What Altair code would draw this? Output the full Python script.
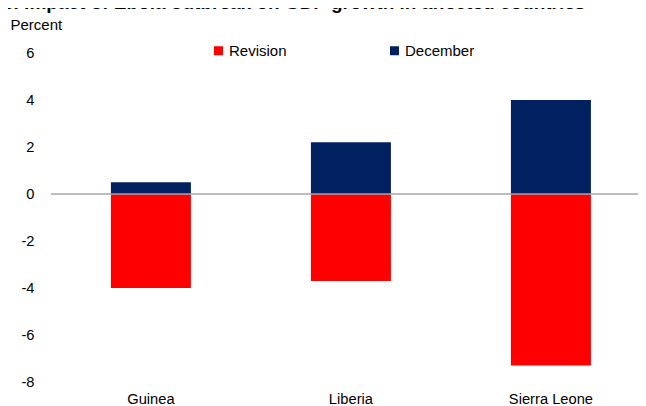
import altair as alt
import pandas as pd

countries = ["Guinea", "Liberia", "Sierra Leone"]
revision = [-4.0, -3.7, -7.3]
december = [0.5, 2.2, 4.0]
series = ["Revision", "December"]
colors = ["#ff0000", "#002060"]
y_ticks = [-8, -6, -4, -2, 0, 2, 4, 6]
title_text = "3. Impact of Ebola outbreak on GDP growth in affected countries"

rows = []
for c, r, d in zip(countries, revision, december):
    rows.append({"country": c, "series": "Revision", "value": r})
    rows.append({"country": c, "series": "December", "value": d})
df = pd.DataFrame(rows)

W, H = 587, 329
FONT = "Liberation Sans"

bars = alt.Chart(df).mark_bar().encode(
    x=alt.X(
        "country:N",
        sort=countries,
        scale=alt.Scale(paddingInner=0.6, paddingOuter=0.2675, align=0.56),
        axis=alt.Axis(
            title=None, labelAngle=0, domain=False, ticks=False, tickSize=0,
            labelPadding=9, labelFontSize=14.7, labelColor="#000", labelFont=FONT,
            labelBaseline="top",
        ),
    ),
    y=alt.Y(
        "value:Q",
        stack="zero",
        scale=alt.Scale(domain=[-8, 6], nice=False, zero=False),
        axis=alt.Axis(
            values=y_ticks, grid=False, domain=False, ticks=False, tickSize=0,
            labelExpr="'' + datum.value",
            labelPadding=17, labelFontSize=14.7, labelColor="#000", labelFont=FONT,
            title="Percent", titleAngle=0, titleX=-41, titleY=-24,
            titleAlign="left", titleBaseline="alphabetic", titleFontWeight="normal",
            titleFontSize=15, titleFont=FONT, titleColor="#000",
        ),
    ),
    color=alt.Color(
        "series:N",
        scale=alt.Scale(domain=series, range=colors),
        legend=alt.Legend(
            title=None, orient="none", legendX=160, legendY=-10,
            direction="horizontal", columns=2, symbolType="square",
            symbolSize=81, symbolStrokeWidth=0, symbolOpacity=1,
            labelFontSize=15, labelFont=FONT, labelColor="#000",
            labelOffset=3, columnPadding=100, padding=0,
        ),
    ),
)

zero_rule = alt.Chart(pd.DataFrame({"z": [0]})).mark_rule(
    color="#a6a6a6", strokeWidth=1.5
).encode(y=alt.datum(0), x=alt.value(0), x2=alt.value(W))

chart = alt.layer(bars, zero_rule).properties(
    width=W,
    height=H,
    background="white",
    autosize=alt.AutoSizeParams(type="none"),
    padding={"left": 43, "top": 45, "right": 0, "bottom": 24},
    title=alt.TitleParams(
        title_text, anchor="start", frame="group", fontSize=19,
        fontWeight="bold", font=FONT, color="#000", offset=0, dx=-48, dy=-4,
    ),
).configure_view(stroke=None)

chart.save("out.html", embed_options={"renderer": "svg", "actions": False})
